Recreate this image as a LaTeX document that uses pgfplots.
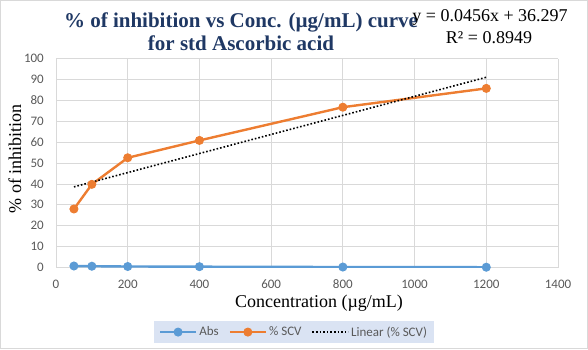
\documentclass[border=0pt]{standalone}
\usepackage{pgfplots}
\pgfplotsset{compat=1.18}
\usepackage{fontspec}
\setmainfont{Liberation Serif}
\newfontfamily\calibri{Carlito}
\definecolor{xlblue}{RGB}{91,155,213}
\definecolor{xlorange}{RGB}{237,125,49}
\definecolor{titleblue}{RGB}{31,56,100}
\definecolor{gridgray}{RGB}{217,217,217}
\definecolor{ticktext}{RGB}{89,89,89}
\definecolor{legfill}{RGB}{218,227,243}

\begin{document}
\begin{tikzpicture}[x=1pt,y=1pt]
\useasboundingbox (0,0) rectangle (588,349);
\draw[gridgray, line width=0.8pt] (0.5,0.5) rectangle (587.5,348.5);
\begin{axis}[
  at={(56pt,81.5pt)}, anchor=south west,
  scale only axis, width=502pt, height=209pt,
  xmin=0, xmax=1400, ymin=0, ymax=100,
  xtick={0,200,...,1400}, ytick={0,10,...,100},
  grid=major, major grid style={gridgray, line width=0.75pt},
  axis line style={draw=none},
  tick style={draw=none},
  ticklabel style={font=\calibri\fontsize{13}{15}\selectfont, text=ticktext},
  xticklabel style={anchor=center, yshift=-17pt},
  yticklabel style={anchor=east, inner sep=0pt, xshift=-12pt},
  /pgf/number format/assume math mode=true,
  /pgf/number format/1000 sep={},
  xlabel={Concentration (µg/mL)},
  ylabel={\% of inhibition},
  label style={font=\fontsize{18}{21}\selectfont},
  xlabel style={at={(axis description cs:0.524,-0.170)}, anchor=center},
  ylabel style={at={(axis description cs:-0.0817,0.52)}, anchor=center},
  legend style={at={(axis description cs:0.474,-0.309)}, anchor=center,
    fill=legfill, draw=none, legend columns=3,
    font=\calibri\fontsize{13}{15}\selectfont, text=ticktext,
    inner xsep=5pt, inner ysep=3.5pt,
    /tikz/every even column/.append style={column sep=8pt}},
  legend cell align=left,
  legend image code/.code={
    \draw[#1] (0pt,0pt) -- (36pt,0pt);
    \draw[#1] plot coordinates {(18pt,0pt)};},
]
% absorbance
\addplot[xlblue, line width=2.4pt, mark=*, mark size=4pt,
  mark options={solid, fill=xlblue, draw=xlblue, line width=1pt}]
  coordinates {(50,0.72) (100,0.61) (200,0.48) (400,0.40) (800,0.23) (1200,0.14)};
\addlegendentry{Abs}
% percent scavenging
\addplot[xlorange, line width=2.4pt, mark=*, mark size=4pt,
  mark options={solid, fill=xlorange, draw=xlorange, line width=1pt}]
  coordinates {(50,28.0) (100,39.8) (200,52.5) (400,60.8) (800,76.7) (1200,85.7)};
\addlegendentry{\% SCV}
% linear fit y = 0.0456x + 36.297
\addplot[black, line width=1.6pt, dotted]
  coordinates {(50,38.577) (1200,91.017)};
\addlegendentry{Linear (\% SCV)}
\end{axis}
\node[font=\bfseries\fontsize{21}{23}\selectfont, text=titleblue, align=center]
  at (241,317.5) {\% of inhibition vs Conc. (µg/mL) curve\\for std Ascorbic acid};
\node[font=\fontsize{18}{20}\selectfont] at (490,332) {y = 0.0456x + 36.297};
\node[font=\fontsize{18}{20}\selectfont] at (489,311) {R² = 0.8949};
\end{tikzpicture}
\end{document}
